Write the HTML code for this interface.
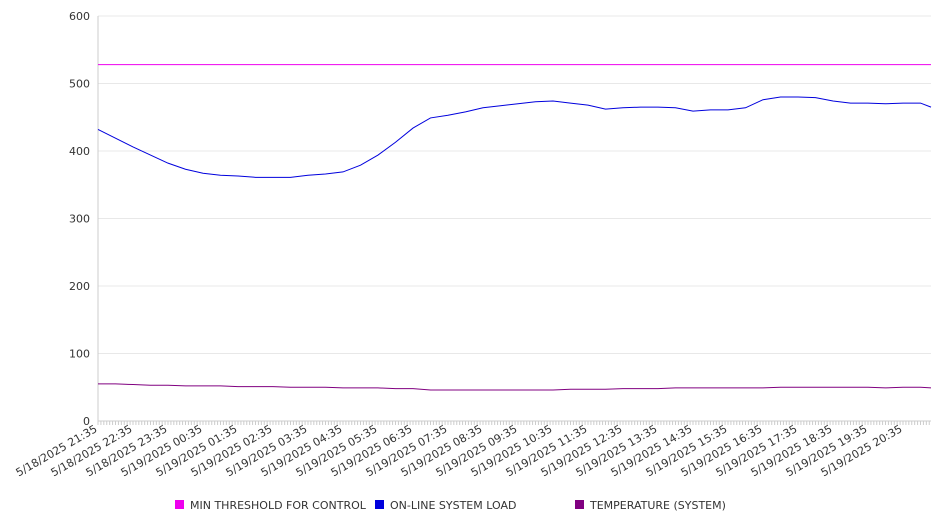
<!DOCTYPE html>
<html><head><meta charset="utf-8"><style>
body{margin:0;background:#fff;width:946px;height:526px;overflow:hidden;font-family:"DejaVu Sans","Liberation Sans",sans-serif}
svg text{font-family:"DejaVu Sans","Liberation Sans",sans-serif;fill:#333}
</style></head><body>
<svg id="chart" width="946" height="526" xmlns="http://www.w3.org/2000/svg"></svg>
<script>
const tickLabels=["5/18/2025 21:35","5/18/2025 22:35","5/18/2025 23:35","5/19/2025 00:35","5/19/2025 01:35","5/19/2025 02:35","5/19/2025 03:35","5/19/2025 04:35","5/19/2025 05:35","5/19/2025 06:35","5/19/2025 07:35","5/19/2025 08:35","5/19/2025 09:35","5/19/2025 10:35","5/19/2025 11:35","5/19/2025 12:35","5/19/2025 13:35","5/19/2025 14:35","5/19/2025 15:35","5/19/2025 16:35","5/19/2025 17:35","5/19/2025 18:35","5/19/2025 19:35","5/19/2025 20:35"];
const yTicks=[0,100,200,300,400,500,600];
// values every 30 minutes from 21:35
const loadValues=[432,419,406,394,382,373,367,364,363,361,361,361,364,366,369,379,394,413,434,449,453,458,464,467,470,473,474,471,468,462,464,465,465,464,459,461,461,464,476,480,480,479,474,471,471,470,471,471,465];
const tempValues=[55,55,54,53,53,52,52,52,51,51,51,50,50,50,49,49,49,48,48,46,46,46,46,46,46,46,46,47,47,47,48,48,48,49,49,49,49,49,49,50,50,50,50,50,50,49,50,50,49];
const thresholdValues=[528,528];
const series=[{name:"MIN THRESHOLD FOR CONTROL",color:"#ee00ee"},{name:"ON-LINE SYSTEM LOAD",color:"#0000dd"},{name:"TEMPERATURE (SYSTEM)",color:"#800080"}];
const NS="http://www.w3.org/2000/svg",svg=document.getElementById('chart');
const X0=98,X1=931,Y0=421,Y1=16,HOURPX=35;
const xH=h=>X0+h*HOURPX;
const y=v=>Y0-(v-0)/600*(Y0-Y1);
function el(t,a){const e=document.createElementNS(NS,t);for(const k in a)e.setAttribute(k,a[k]);svg.appendChild(e);return e;}
yTicks.forEach(v=>{
 const g=el('line',{x1:X0,x2:X1,y1:y(v),y2:y(v),stroke:v===0?'#ccc':'#e8e8e8','stroke-width':1});
 
 
 const t=el('text',{x:90,y:y(v)+4,'text-anchor':'end','font-size':11});t.textContent=v;
 
 
});
const ax=el('line',{x1:X0,x2:X0,y1:Y1,y2:Y0,stroke:'#ccc'});


for(let i=0;i<=286;i++){const xx=xH(i/12);if(xx>X1)break;const m=el('line',{x1:xx,x2:xx,y1:Y0,y2:Y0+4,stroke:'#ccc'});
 
 }
tickLabels.forEach((l,i)=>{const xx=xH(i);const t=el('text',{x:xx,y:Y0+10,'text-anchor':'end','font-size':11,transform:`rotate(-30 ${xx} ${Y0+10})`});t.textContent=l;
 
 });
function line(vals,step,color,name){
 const pts=vals.map((v,i)=>{let xx=xH(i*step);if(xx>X1)xx=X1;return xx+','+y(v);}).join(' ');
 const p=el('polyline',{points:pts,fill:'none',stroke:color,'stroke-width':1});
 
 
}
const th=el('line',{x1:X0,x2:X1,y1:y(thresholdValues[0]),y2:y(thresholdValues[1]),stroke:series[0].color});


line(loadValues,0.5,series[1].color,'load-line');
line(tempValues,0.5,series[2].color,'temperature-line');
const lx=[175,375,575];
series.forEach((s,i)=>{
 const r=el('rect',{x:lx[i],y:500,width:9,height:9,fill:s.color});
 
 
 const t=el('text',{x:lx[i]+15,y:509,'font-size':11});t.textContent=s.name;
 
 
});
</script>
</body></html>
